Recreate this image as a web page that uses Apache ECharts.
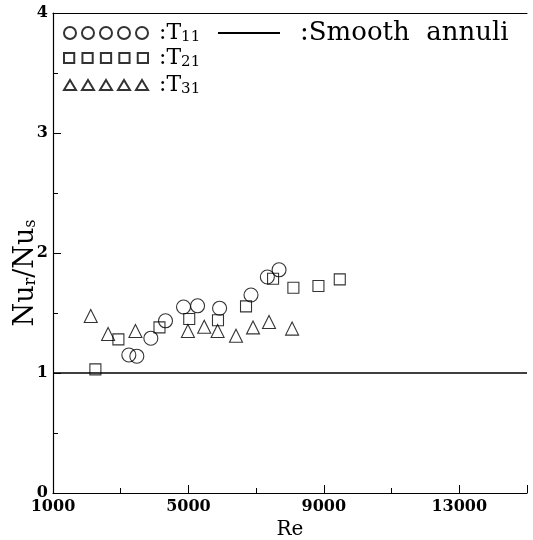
<!DOCTYPE html>
<html>
<head>
<meta charset="utf-8">
<script src="https://cdn.jsdelivr.net/npm/echarts@6/dist/echarts.min.js"></script>
<style>
html, body { margin: 0; padding: 0; background: #fff; }
#container { width: 533px; height: 540px; }
</style>
</head>
<body>
<div id="container"></div>
<script>
// values
const T11_RE = [3240, 3476, 3890, 4323, 4855, 5270, 5920, 6848, 7331, 7677];
const T11_NU = [1.15, 1.14, 1.29, 1.435, 1.55, 1.56, 1.54, 1.65, 1.80, 1.86];
const T21_RE = [2252, 2932, 4145, 5024, 5873, 6701, 7500, 8100, 8840, 9470];
const T21_NU = [1.03, 1.28, 1.38, 1.45, 1.44, 1.555, 1.785, 1.71, 1.725, 1.78];
const T31_RE = [2115, 2627, 3435, 4985, 5467, 5862, 6405, 6908, 7380, 8062];
const T31_NU = [1.475, 1.325, 1.35, 1.35, 1.385, 1.35, 1.31, 1.38, 1.425, 1.37];
const SMOOTH_RE = [1000, 15000];
const SMOOTH_NU = [1, 1];
const X_TICKS = [1000, 5000, 9000, 13000];
const Y_TICKS = [0, 1, 2, 3, 4];

const FONT = 'DejaVu Serif';
const HOLLOW = 'rgba(0,0,0,0)';

function pairs(xs, ys) {
    return xs.map(function (x, i) { return [x, ys[i]]; });
}

// legend icons: five hollow marks in a row
function rowPath(shape) {
    let p = '';
    for (let k = 0; k < 5; k++) {
        const x = k * 18;
        if (shape === 'circle') {
            p += 'M' + x + ',6A6,6,0,1,1,' + (x + 12) + ',6A6,6,0,1,1,' + x + ',6Z';
        } else if (shape === 'rect') {
            p += 'M' + (x + 1) + ',1H' + (x + 11) + 'V11H' + (x + 1) + 'Z';
        } else {
            p += 'M' + (x + 6) + ',1L' + (x + 12) + ',11L' + x + ',11Z';
        }
    }
    return 'path://' + p;
}

function seriesLegend(name, shape, top) {
    return {
        left: 63,
        top: top,
        padding: 0,
        itemWidth: 84,
        itemHeight: 12,
        selectedMode: false,
        data: [{ name: name, icon: rowPath(shape) }],
        formatter: function (n) {
            return ':{t|T}{s|' + n.slice(1) + '}';
        },
        textStyle: {
            color: '#000',
            fontFamily: FONT,
            fontSize: 22,
            padding: [0, 0, 0, 6],
            rich: {
                t: { fontFamily: FONT, fontSize: 22, color: '#000' },
                s: { fontFamily: FONT, fontSize: 15, color: '#000', padding: [9, 0, 0, 0] }
            }
        }
    };
}

let dom = document.getElementById('container');
let myChart = echarts.init(dom);

let option = {
    backgroundColor: '#fff',
    animation: false,
    grid: {
        left: 53,
        right: 6,
        top: 13,
        bottom: 47,
        outerBoundsMode: 'none'
    },
    legend: [
        seriesLegend('T11', 'circle', 22),
        seriesLegend('T21', 'rect', 47),
        seriesLegend('T31', 'triangle', 74),
        {
            left: 218,
            top: 20,
            padding: 0,
            itemWidth: 62,
            itemHeight: 2,
            selectedMode: false,
            data: [{ name: 'Smooth annuli', icon: 'path://M0,0H62V2H0Z' }],
            formatter: function () {
                return ':Smooth  annuli';
            },
            textStyle: {
                color: '#000',
                fontFamily: FONT,
                fontSize: 26,
                padding: [0, 0, 0, 15]
            }
        }
    ],
    xAxis: [{
        type: 'value',
        min: 1000,
        max: 15000,
        interval: 4000,
        name: 'Re',
        nameLocation: 'middle',
        nameGap: 15,
        nameTextStyle: { color: '#000', fontFamily: FONT, fontSize: 20 },
        axisLine: { lineStyle: { color: '#000', width: 1.2 } },
        axisTick: { inside: true, length: 8, lineStyle: { color: '#000' } },
        minorTick: { show: true, splitNumber: 2, length: 5, lineStyle: { color: '#000' } },
        axisLabel: {
            color: '#000',
            fontFamily: FONT,
            fontWeight: 'bold',
            fontSize: 16,
            margin: 6,
            showMaxLabel: false,
            formatter: function (v) {
                return X_TICKS.indexOf(v) >= 0 ? String(v) : '';
            }
        },
        splitLine: { show: false }
    }, {
        type: 'value',
        position: 'top',
        min: 1000,
        max: 15000,
        axisLine: { show: true, lineStyle: { color: '#000', width: 1.2 } },
        axisTick: { show: false },
        axisLabel: { show: false },
        splitLine: { show: false }
    }],
    yAxis: {
        type: 'value',
        min: 0,
        max: 4,
        interval: 1,
        name: '{n|Nu}{s|r}{n|/Nu}{s|s}',
        nameLocation: 'middle',
        nameRotate: 90,
        nameGap: 14,
        nameMoveOverlap: false,
        nameTextStyle: {
            padding: [0, 40, 0, 0],
            rich: {
                n: { fontFamily: FONT, fontSize: 27, color: '#000' },
                s: { fontFamily: FONT, fontSize: 16, color: '#000', padding: [11, 0, 0, 0] }
            }
        },
        axisLine: { show: true, lineStyle: { color: '#000', width: 1.2 } },
        axisTick: { inside: true, length: 8, lineStyle: { color: '#000' } },
        minorTick: { show: true, splitNumber: 2, length: 5, lineStyle: { color: '#000' } },
        axisLabel: {
            color: '#000',
            fontFamily: FONT,
            fontWeight: 'bold',
            fontSize: 16,
            margin: 5,
            formatter: function (v) {
                return Y_TICKS.indexOf(v) >= 0 ? String(v) : '';
            }
        },
        splitLine: { show: false }
    },
    series: [{
        name: 'T11',
        type: 'scatter',
        symbol: 'circle',
        symbolSize: 14,
        data: pairs(T11_RE, T11_NU),
        itemStyle: { color: HOLLOW, borderColor: '#000', borderWidth: 1.1 }
    }, {
        name: 'T21',
        type: 'scatter',
        symbol: 'rect',
        symbolSize: 11,
        data: pairs(T21_RE, T21_NU),
        itemStyle: { color: HOLLOW, borderColor: '#000', borderWidth: 1.1 }
    }, {
        name: 'T31',
        type: 'scatter',
        symbol: 'triangle',
        symbolSize: 13,
        data: pairs(T31_RE, T31_NU),
        itemStyle: { color: HOLLOW, borderColor: '#000', borderWidth: 1.1 }
    }, {
        name: 'Smooth annuli',
        type: 'line',
        showSymbol: false,
        data: pairs(SMOOTH_RE, SMOOTH_NU),
        itemStyle: { color: '#000' },
        lineStyle: { color: '#000', width: 1.5 }
    }]
};

myChart.setOption(option);
window.addEventListener('resize', function () {
    myChart.resize();
});
</script>
</body>
</html>
